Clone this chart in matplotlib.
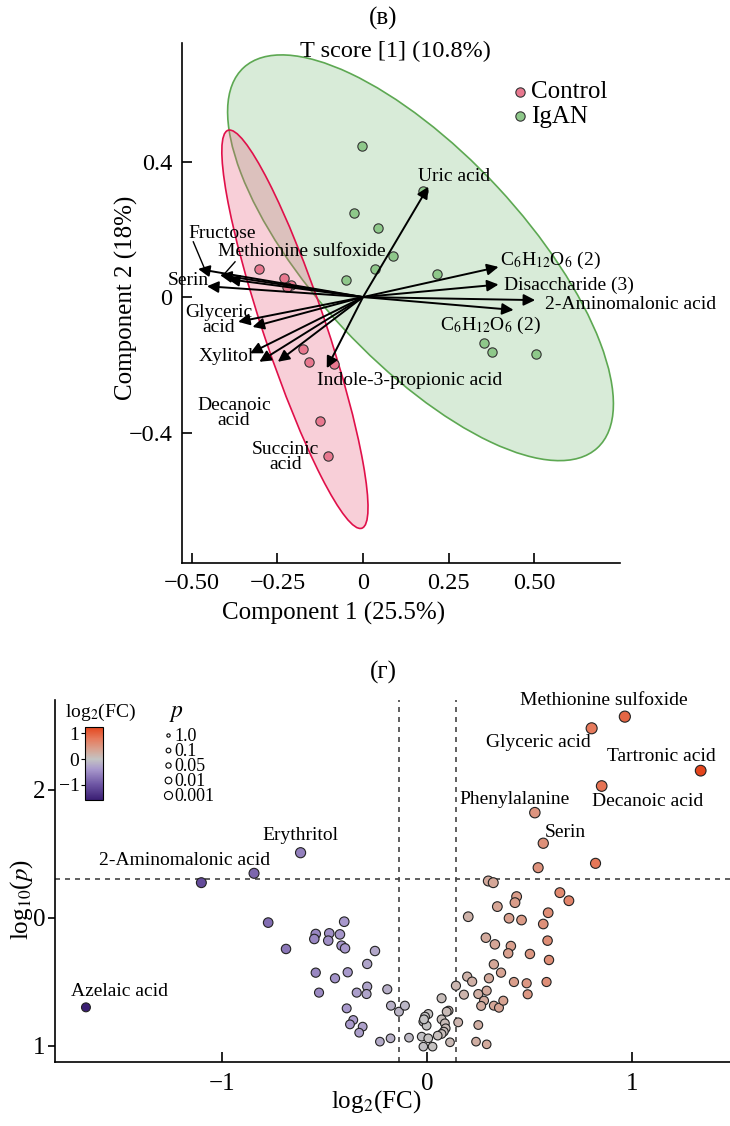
import numpy as np
import matplotlib
matplotlib.use('Agg')
import matplotlib.pyplot as plt
from matplotlib.patches import Ellipse
from matplotlib.lines import Line2D
from matplotlib.colors import LinearSegmentedColormap, Normalize
from matplotlib.cm import ScalarMappable
from matplotlib.ticker import FuncFormatter

plt.rcParams['font.family'] = ['Liberation Serif', 'DejaVu Serif']
plt.rcParams['mathtext.fontset'] = 'stix'

# ---------- (в) PCA biplot ----------
ctrl_x = [-0.303, -0.231, -0.211, -0.222, -0.176, -0.159, -0.086, -0.126, -0.101]
ctrl_y = [0.082, 0.057, 0.035, 0.030, -0.154, -0.191, -0.199, -0.367, -0.469]
igan_x = [-0.003, -0.026, 0.045, 0.087, 0.035, -0.051, 0.215, 0.174, 0.354, 0.378, 0.506]
igan_y = [0.447, 0.249, 0.203, 0.122, 0.083, 0.049, 0.068, 0.313, -0.135, -0.161, -0.169]

# confidence ellipses: centre x, centre y, semi-major, semi-minor, angle (deg)
ctrl_ell = [-0.199, -0.095, 0.619, 0.091, 108.4]
igan_ell = [0.168, 0.116, 0.763, 0.307, -47.4]

# loading vectors
load_x = [0.191, 0.396, 0.396, 0.503, 0.44, -0.106, -0.482, -0.418, -0.395, -0.456,
          -0.365, -0.323, -0.33, -0.303, -0.249]
load_y = [0.326, 0.089, 0.037, -0.009, -0.038, -0.21, 0.083, 0.065, 0.053, 0.032,
          -0.073, -0.088, -0.166, -0.191, -0.191]

load_labels = ['Fructose', 'Methionine sulfoxide', 'Serin', 'Glyceric\nacid', 'Xylitol',
               'Decanoic\nacid', 'Succinic\nacid', 'Indole-3-propionic acid', 'Uric acid',
               r'C$_6$H$_{12}$O$_6$ (2)', 'Disaccharide (3)', '2-Aminomalonic acid',
               r'C$_6$H$_{12}$O$_6$ (2)']
lab_x = [-0.511, -0.423, -0.572, -0.421, -0.399, -0.377, -0.227, 0.137, 0.267, 0.399, 0.412, 0.532, 0.225]
lab_y = [0.188, 0.134, 0.050, -0.069, -0.176, -0.343, -0.471, -0.245, 0.357, 0.094, 0.035, -0.021, -0.097]
lab_ha = ['left', 'left', 'left', 'center', 'center', 'center', 'center', 'center', 'center',
          'left', 'left', 'left', 'left']
lab_va = ['center'] * 9 + ['baseline', 'center', 'center', 'baseline']

# ---------- (г) volcano ----------
hit_names = ['Methionine sulfoxide', 'Glyceric acid', 'Tartronic acid', 'Decanoic acid',
             'Phenylalanine', 'Serin', 'Erythritol', '2-Aminomalonic acid', 'Azelaic acid']
hit_fc = [0.963, 0.801, 1.333, 0.850, 0.524, 0.565, -0.619, -1.103, -1.666]
hit_p = [2.573, 2.482, 2.151, 2.031, 1.823, 1.584, 1.510, 1.276, 0.302]
hit_lab_x = [0.861, 0.539, 1.139, 1.076, 0.427, 0.671, -0.622, -1.183, -1.502]
hit_lab_y = [2.70, 2.37, 2.26, 1.909, 1.927, 1.666, 1.648, 1.448, 0.424]

other_fc = [0.540, 0.820, -0.846,
            0.297, 0.321, 0.435, 0.427, 0.646, 0.690, 0.341, 0.199, 0.398, 0.459, 0.589, 0.565,
            0.285, 0.329, 0.407, 0.394, 0.500, 0.586, 0.593, 0.324, 0.359, 0.194, 0.218, 0.300,
            0.422, 0.484, 0.581, 0.489, 0.139, 0.178, 0.248, 0.289, 0.276, 0.262, 0.324, 0.349,
            0.370, 0.069, 0.103, 0.094, 0.150, 0.248, 0.237, 0.289, 0.110,
            0.004, -0.012, -0.020, -0.004, -0.017, 0.069, 0.085, 0.089, 0.080, 0.069, 0.050,
            -0.028, 0.004, -0.020, 0.025, -0.090, -0.180, -0.232, -0.196, -0.178, -0.139, -0.110,
            -0.777, -0.690, -0.406, -0.545, -0.552, -0.479, -0.484, -0.427, -0.419, -0.402,
            -0.256, -0.294, -0.545, -0.451, -0.389, -0.529, -0.345, -0.294, -0.297, -0.394,
            -0.362, -0.378, -0.316, -0.333]
other_p = [1.393, 1.427, 1.349,
           1.289, 1.276, 1.167, 1.120, 1.198, 1.135, 1.089, 1.010, 0.998, 0.984, 1.041, 0.953,
           0.846, 0.794, 0.781, 0.724, 0.719, 0.823, 0.672, 0.638, 0.573, 0.542, 0.503, 0.529,
           0.500, 0.490, 0.500, 0.404, 0.471, 0.401, 0.406, 0.432, 0.354, 0.313, 0.315, 0.299,
           0.354, 0.373, 0.276, 0.268, 0.185, 0.164, 0.034, 0.013, 0.029,
           0.250, 0.229, 0.190, 0.159, 0.208, 0.208, 0.177, 0.138, 0.112, 0.094, 0.081,
           0.073, 0.060, -0.005, -0.005, 0.065, 0.060, 0.034, 0.443, 0.315, 0.268, 0.315,
           0.964, 0.758, 0.971, 0.875, 0.836, 0.880, 0.823, 0.872, 0.784, 0.763,
           0.742, 0.641, 0.573, 0.529, 0.576, 0.417, 0.417, 0.464, 0.406, 0.294,
           0.203, 0.169, 0.151, 0.104]

p_ticks = [0, 1, 2]
p_tick_labels = ['1', '0', '2']
size_p = ['1.0', '0.1', '0.05', '0.01', '0.001']
size_ms = [2.4, 3.4, 3.8, 4.8, 5.8]

fc_all = np.array(hit_fc + other_fc)
p_all = np.array(hit_p + other_p)

fig = plt.figure(figsize=(7.3, 11.26), dpi=100)

# ================= panel (в) =================
ax = fig.add_axes([182 / 730, 1 - 563 / 1126, 438 / 730, 520 / 1126])
ax.add_patch(Ellipse((igan_ell[0], igan_ell[1]), 2 * igan_ell[2], 2 * igan_ell[3], angle=igan_ell[4],
                     facecolor=(0.5, 0.75, 0.5, 0.3), edgecolor='#5da852', lw=1.2, zorder=1))
ax.add_patch(Ellipse((ctrl_ell[0], ctrl_ell[1]), 2 * ctrl_ell[2], 2 * ctrl_ell[3], angle=ctrl_ell[4],
                     facecolor=(0.91, 0.38, 0.5, 0.3), edgecolor='#e0104a', lw=1.2, zorder=1))

ax.scatter(ctrl_x, ctrl_y, s=45, c='#e8788f', edgecolors='#333333', linewidths=0.8, zorder=2, label='Control')
ax.scatter(igan_x, igan_y, s=45, c='#8ec88a', edgecolors='#333333', linewidths=0.8, zorder=2, label='IgAN')

for lx, ly in zip(load_x, load_y):
    ax.annotate('', xy=(lx, ly), xytext=(0, 0),
                arrowprops=dict(arrowstyle='-|>', color='black', lw=1.4, mutation_scale=17,
                                shrinkA=0, shrinkB=0), zorder=3)

for t, x, y, ha, va in zip(load_labels, lab_x, lab_y, lab_ha, lab_va):
    ax.text(x, y, t, ha=ha, va=va, fontsize=14, linespacing=0.85, zorder=4)

# leader lines for Fructose and Methionine sulfoxide
ax.plot([-0.496, -0.461], [0.163, 0.079], color='black', lw=1.0, zorder=3)
ax.plot([-0.374, -0.408], [0.104, 0.065], color='black', lw=1.0, zorder=3)

ax.set_xlim(-0.529, 0.751)
ax.set_ylim(-0.785, 0.75)
ax.set_xticks([-0.5, -0.25, 0, 0.25, 0.5])
ax.set_yticks([-0.4, 0, 0.4])
ax.xaxis.set_major_formatter(FuncFormatter(lambda v, p: '0' if v == 0 else ('%.2f' % v).replace('-', '\u2212')))
ax.yaxis.set_major_formatter(FuncFormatter(lambda v, p: '0' if v == 0 else ('%.1f' % v).replace('-', '\u2212')))
ax.tick_params(direction='in', length=7, width=1.2, labelsize=17.5, pad=7)
for s in ['top', 'right']:
    ax.spines[s].set_visible(False)
for s in ['left', 'bottom']:
    ax.spines[s].set_linewidth(1.2)
ax.set_xlabel('Component 1 (25.5%)', fontsize=18)
ax.xaxis.set_label_coords(0.347, -0.074)
ax.set_ylabel('Component 2 (18%)', fontsize=18)
ax.yaxis.set_label_coords(-0.1, 0.51)
ax.legend(loc='upper left', bbox_to_anchor=(0.755, 0.927), frameon=False, fontsize=18,
          handlelength=0.6, handletextpad=0.15, labelspacing=0.08, borderpad=0, borderaxespad=0)

fig.text(382.7 / 730, 1 - 18 / 1126, '(в)', ha='center', va='center', fontsize=18)
fig.text(395 / 730, 1 - 51.7 / 1126, 'T score [1] (10.8%)', ha='center', va='center', fontsize=17.5)

# ================= panel (г) =================
cmap = LinearSegmentedColormap.from_list('fc', [
    (0.0, '#3a1e73'), (0.6 / 2.85, '#6d55a3'), (1.2 / 2.85, '#a898cc'), (1.6 / 2.85, '#c3c3c3'),
    (2.0 / 2.85, '#d9a08e'), (2.4 / 2.85, '#e67a5c'), (1.0, '#e4451c')])
norm = Normalize(vmin=-1.6, vmax=1.25)

ax2 = fig.add_axes([55 / 730, 1 - 1062 / 1126, 675 / 730, 362 / 1126])
ax2.axhline(-np.log10(0.05), ls=(0, (3, 3)), color='#444444', lw=1.2, zorder=1)
fc_cut = np.log2(1.1)
for t in (-fc_cut, fc_cut):
    ax2.axvline(t, ls=(0, (3, 3)), color='#444444', lw=1.2, zorder=1)

ax2.scatter(fc_all, p_all, c=fc_all, cmap=cmap, norm=norm, s=38 + 10 * p_all,
            edgecolors='#222222', linewidths=0.8, zorder=3)

for t, x, y in zip(hit_names, hit_lab_x, hit_lab_y):
    ax2.text(x, y, t, ha='center', va='center', fontsize=14)

ax2.set_xlim(-1.817, 1.476)
ax2.set_ylim(-0.125, 2.703)
ax2.set_xticks([-1, 0, 1])
ax2.xaxis.set_major_formatter(FuncFormatter(lambda v, p: ('%d' % v).replace('-', '\u2212')))
ax2.set_yticks(p_ticks)
ax2.set_yticklabels(p_tick_labels)
ax2.tick_params(axis='x', direction='in', length=7, width=1.2, labelsize=18, pad=8)
ax2.tick_params(axis='y', direction='out', length=5, width=1.2, labelsize=18, pad=2)
for s in ['top', 'right']:
    ax2.spines[s].set_visible(False)
for s in ['left', 'bottom']:
    ax2.spines[s].set_linewidth(1.2)
ax2.set_xlabel(r'log$_2$(FC)', fontsize=18)
ax2.xaxis.set_label_coords(0.476, -0.072)
ax2.set_ylabel(r'log$_{10}$($p$)', fontsize=18)
ax2.yaxis.set_label_coords(-0.03, 0.45)

handles = [Line2D([], [], marker='o', ls='', mfc='white', mec='black', mew=0.8, ms=m) for m in size_ms]
ax2.legend(handles, size_p, loc='upper left', bbox_to_anchor=(0.16, 0.922),
           frameon=False, fontsize=13, handlelength=0.5, handletextpad=0.15,
           labelspacing=-0.11, borderpad=0, borderaxespad=0)
fig.text(176 / 730, 1 - 713 / 1126, '$p$', ha='center', va='center', fontsize=17)

cax = fig.add_axes([85 / 730, 1 - 800 / 1126, 18 / 730, 73 / 1126])
cb = fig.colorbar(ScalarMappable(norm=norm, cmap=cmap), cax=cax, ticks=[-1, 0, 1])
cax.yaxis.set_ticks_position('left')
cax.yaxis.set_major_formatter(FuncFormatter(lambda v, p: ('%d' % v).replace('-', '\u2212')))
cax.tick_params(labelsize=14, length=3, pad=1)
cb.outline.set_linewidth(0.8)
fig.text(101 / 730, 1 - 712 / 1126, r'log$_2$(FC)', ha='center', va='center', fontsize=14)

fig.text(383 / 730, 1 - 672 / 1126, '(г)', ha='center', va='center', fontsize=18)

fig.savefig('out.png', dpi=100)
